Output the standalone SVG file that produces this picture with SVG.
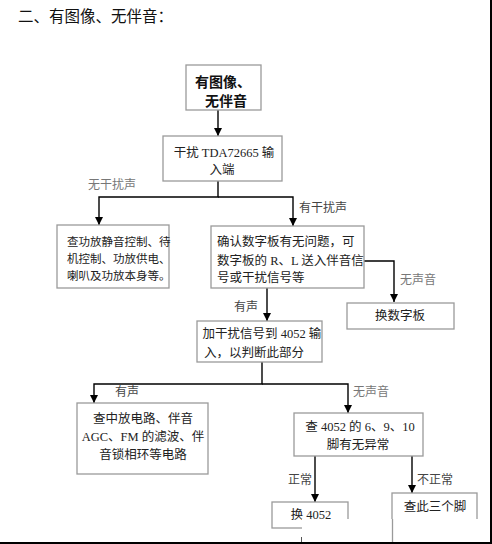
<svg xmlns="http://www.w3.org/2000/svg" width="492" height="544" viewBox="0 0 492 544">
<style>
text{font-family:"Liberation Serif","Noto Sans CJK SC",serif;fill:#222}
.box{fill:#fff;stroke:#9a9a9a;stroke-width:1.3}
.t{font-size:12.5px}
.c{text-anchor:middle}
.lbl{font-size:12px;fill:#444}
.lg{font-size:12px;fill:#777}
.ln{fill:none;stroke:#000;stroke-width:1.4}
</style>
<defs>
<marker id="ah" viewBox="0 0 10 10" refX="10" refY="5" markerWidth="8" markerHeight="9" markerUnits="userSpaceOnUse" orient="auto">
<path d="M0,0 L10,5 L0,10 Z" fill="#000"/>
</marker>
</defs>
<rect width="492" height="544" fill="#fff"/>
<text x="18" y="22" style="font-size:15.5px;fill:#111">二、有图像、无伴音：</text>

<g id="connectors">
<path class="ln" d="M218,110 V136" marker-end="url(#ah)"/>
<path class="ln" d="M218,181 V197 H99 V225" marker-end="url(#ah)"/>
<path class="ln" d="M218,197 H293 V226" marker-end="url(#ah)"/>
<path class="ln" d="M364,261 H394 V302" marker-end="url(#ah)"/>
<path class="ln" d="M267,288 V321" marker-end="url(#ah)"/>
<path class="ln" d="M262,362 V384 H94 V403" marker-end="url(#ah)"/>
<path class="ln" d="M262,384 H348 V413" marker-end="url(#ah)"/>
<path class="ln" d="M315,456 V502" marker-end="url(#ah)"/>
<path class="ln" d="M412,456 V493" marker-end="url(#ah)"/>
<text class="lg" x="88" y="189">无干扰声</text>
<text class="lbl" x="299" y="212">有干扰声</text>
<text class="lg" x="400" y="284">无声音</text>
<text class="lbl" x="234" y="311">有声</text>
<text class="lbl" x="115" y="396">有声</text>
<text class="lg" x="353" y="396">无声音</text>
<text class="lbl" x="288" y="484">正常</text>
<text class="lbl" x="417" y="484">不正常</text>
</g>

<g id="n1">
<rect class="box" x="186" y="65" width="75" height="45"/>
<text class="c" x="223" y="87" style="font-size:14px;font-weight:bold;fill:#111">有图像、</text>
<text class="c" x="226" y="106" style="font-size:14px;font-weight:bold;fill:#111">无伴音</text>
</g>

<g id="n2">
<rect class="box" x="163" y="136" width="119" height="45"/>
<text class="t c" x="224" y="157">干扰 TDA72665 输</text>
<text class="t c" x="222" y="174">入端</text>
</g>

<g id="n3">
<rect class="box" x="57" y="225" width="112" height="63"/>
<text x="67" y="246" style="font-size:11.5px">查功放静音控制、待</text>
<text x="67" y="263" style="font-size:11.5px">机控制、功放供电、</text>
<text x="67" y="280" style="font-size:11.5px">喇叭及功放本身等。</text>
</g>

<g id="n4">
<rect class="box" x="211" y="226" width="153" height="62"/>
<text class="t" x="217" y="246">确认数字板有无问题，可</text>
<text class="t" x="217" y="265">数字板的 R、L 送入伴音信</text>
<text class="t" x="217" y="282">号或干扰信号等</text>
</g>

<g id="n5">
<rect class="box" x="347" y="303" width="107" height="26"/>
<text class="t c" x="400" y="320">换数字板</text>
</g>

<g id="n6">
<rect class="box" x="197" y="321" width="125" height="41"/>
<text class="t c" x="262" y="338">加干扰信号到 4052 输</text>
<text class="t c" x="254" y="357">入，以判断此部分</text>
</g>

<g id="n7">
<rect class="box" x="77" y="403" width="131" height="71"/>
<text class="t c" x="143" y="423">查中放电路、伴音</text>
<text class="t c" x="143" y="441">AGC、FM 的滤波、伴</text>
<text class="t c" x="143" y="459">音锁相环等电路</text>
</g>

<g id="n8">
<rect class="box" x="294" y="413" width="129" height="43"/>
<text class="t c" x="360" y="431">查 4052 的 6、9、10</text>
<text class="t c" x="358" y="449">脚有无异常</text>
</g>

<g id="n9">
<rect class="box" x="272" y="502" width="76" height="26"/>
<text class="t c" x="311" y="519">换 4052</text>
</g>

<g id="n10">
<rect class="box" x="392" y="493" width="85" height="50"/>
<text class="t c" x="435" y="511">查此三个脚</text>
</g>

<rect x="302" y="519" width="188" height="23" fill="#fff"/>
<line x1="392.5" y1="519" x2="392.5" y2="542" stroke="#9a9a9a" stroke-width="1.3"/>
<line x1="301.5" y1="537" x2="301.5" y2="542" stroke="#555" stroke-width="1"/>
<rect x="490" y="0" width="2" height="544" fill="#000"/>
<rect x="0" y="542" width="492" height="2" fill="#000"/>
</svg>
